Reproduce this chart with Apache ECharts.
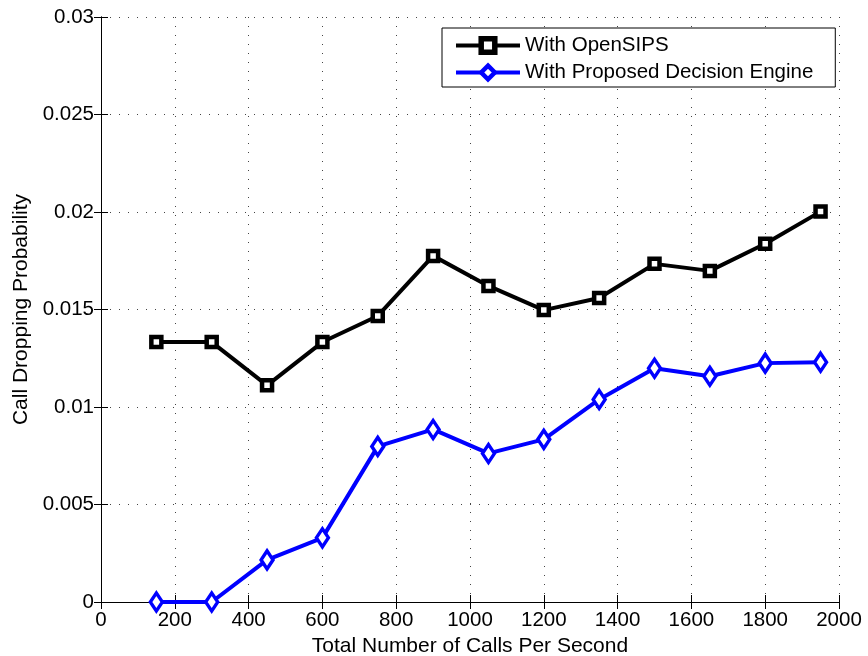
<!DOCTYPE html>
<html>
<head>
<meta charset="utf-8">
<script src="https://cdn.jsdelivr.net/npm/echarts@6/dist/echarts.min.js"></script>
<style>html,body{margin:0;padding:0;background:#fff}#c{width:868px;height:656px}</style>
</head>
<body>
<div id="c"></div>
<script>
var callsPerSecond = [150, 300, 450, 600, 750, 900, 1050, 1200, 1350, 1500, 1650, 1800, 1950];
var openSIPS = [0.01333, 0.01333, 0.01111, 0.01333, 0.01467, 0.01775, 0.01621, 0.01497, 0.01559, 0.01734, 0.01698, 0.01837, 0.02002];
var proposedEngine = [0, 0, 0.00216, 0.00329, 0.00798, 0.00885, 0.00762, 0.00834, 0.01039, 0.01199, 0.01158, 0.01225, 0.0123];
var seriesNames = ['With OpenSIPS', 'With Proposed Decision Engine'];
var yTickLabels = ['0', '0.005', '0.01', '0.015', '0.02', '0.025', '0.03'];
var xTickLabels = ['0', '200', '400', '600', '800', '1000', '1200', '1400', '1600', '1800', '2000'];

function pairs(xs, ys) { return xs.map(function (x, i) { return [x, ys[i]]; }); }

var font = 'Liberation Sans, Arial, Helvetica, sans-serif';
var chart = echarts.init(document.getElementById('c'), null, { renderer: 'canvas' });
var gridLine = { show: true, lineStyle: { color: '#444', type: [1, 8], width: 1 } };
var ticksIn = { show: true, inside: true, length: 7, lineStyle: { color: '#000', width: 1 } };
chart.setOption({
  animation: false,
  backgroundColor: '#fff',
  grid: { left: 101, top: 17, right: 29, bottom: 54, containLabel: false, outerBoundsMode: 'none' },
  legend: {
    left: 442, top: 28,
    orient: 'vertical',
    backgroundColor: '#fff',
    borderColor: '#000', borderWidth: 1,
    borderRadius: 0,
    padding: [7, 22, 4, 12],
    itemGap: 6,
    itemWidth: 64, itemHeight: 17,
    textStyle: { fontFamily: font, fontSize: 20.5, color: '#000' },
    data: [
      { name: seriesNames[0], itemStyle: { color: '#fff', borderColor: '#000', borderWidth: 5.5 },
        lineStyle: { color: '#000', width: 4 } },
      { name: seriesNames[1], itemStyle: { color: '#fff', borderColor: '#0000ff', borderWidth: 4.5 },
        lineStyle: { color: '#0000ff', width: 4 } }
    ]
  },
  xAxis: [{
    type: 'value', min: 0, max: 2000, interval: 200,
    name: 'Total Number of Calls Per Second', nameLocation: 'middle', nameGap: 31,
    nameTextStyle: { fontFamily: font, fontSize: 21, color: '#000' },
    axisLine: { show: true, onZero: false, lineStyle: { color: '#000', width: 1 } },
    axisTick: ticksIn,
    axisLabel: {
      fontFamily: font, fontSize: 20.5, color: '#000', margin: 8,
      formatter: function (v) { return xTickLabels[Math.round(v / 200)]; }
    },
    splitLine: gridLine
  }, {
    type: 'value', min: 0, max: 2000, interval: 200, position: 'top',
    axisLine: { show: true, lineStyle: { color: '#000', width: 1 } },
    axisTick: ticksIn, axisLabel: { show: false }, splitLine: { show: false }
  }],
  yAxis: [{
    type: 'value', min: 0, max: 0.03, interval: 0.005,
    name: 'Call Dropping Probability', nameLocation: 'middle', nameGap: 66,
    nameTextStyle: { fontFamily: font, fontSize: 21, color: '#000' },
    axisLine: { show: true, onZero: false, lineStyle: { color: '#000', width: 1 } },
    axisTick: ticksIn,
    axisLabel: {
      fontFamily: font, fontSize: 20.5, color: '#000', margin: 7,
      formatter: function (v) { return yTickLabels[Math.round(v / 0.005)]; }
    },
    splitLine: gridLine
  }, {
    type: 'value', min: 0, max: 0.03, interval: 0.005, position: 'right',
    axisLine: { show: true, lineStyle: { color: '#000', width: 1 } },
    axisTick: ticksIn, axisLabel: { show: false }, splitLine: { show: false }
  }],
  series: [{
    name: seriesNames[0], type: 'line', data: pairs(callsPerSecond, openSIPS),
    symbol: 'rect', symbolSize: 10, showAllSymbol: true,
    lineStyle: { color: '#000', width: 4 },
    itemStyle: { color: '#fff', borderColor: '#000', borderWidth: 4.5 },
    z: 3
  }, {
    name: seriesNames[1], type: 'line', data: pairs(callsPerSecond, proposedEngine),
    symbol: 'diamond', symbolSize: [12, 18], showAllSymbol: true,
    lineStyle: { color: '#0000ff', width: 4 },
    itemStyle: { color: '#fff', borderColor: '#0000ff', borderWidth: 3.5 },
    z: 3
  }]
});
</script>
</body>
</html>
